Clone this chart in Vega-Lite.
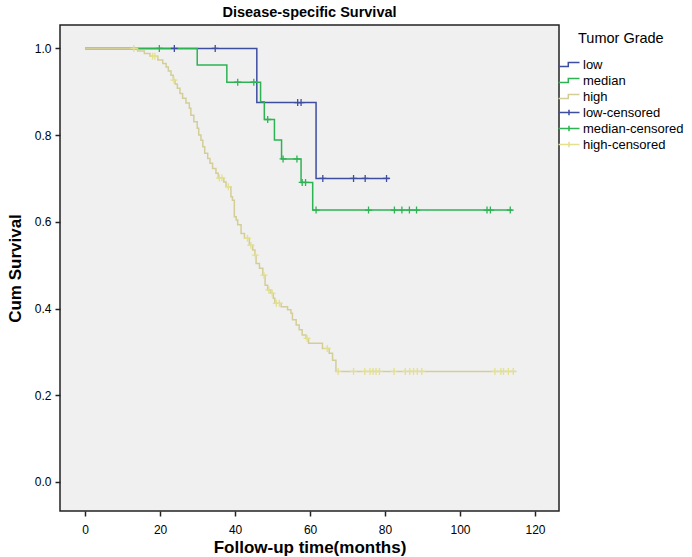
{
  "$schema": "https://vega.github.io/schema/vega-lite/v6.json",
  "width": 499,
  "height": 486,
  "autosize": {"type": "none"},
  "padding": {"left": 60, "top": 25, "right": 133, "bottom": 46},
  "background": "white",
  "title": {"text": "Disease-specific Survival", "font": "Liberation Sans", "fontSize": 14.5, "fontWeight": "bold", "color": "#000", "anchor": "middle", "offset": 5},
  "config": {
    "view": {"fill": "#F0F0F0", "stroke": "#222", "strokeWidth": 1.5},
    "axis": {"domain": false, "grid": false, "ticks": true, "tickColor": "#222", "tickSize": 5, "tickWidth": 1.5, "labelFont": "Liberation Sans", "labelFontSize": 12, "labelColor": "#000", "titleFont": "Liberation Sans", "titleFontSize": 17, "titleFontWeight": "bold", "titleColor": "#000"}
  },
  "data": {"values": [
    {"series": "low", "k": "line", "t": 0, "s": 1},
    {"series": "low", "k": "line", "t": 45.8, "s": 0.875},
    {"series": "low", "k": "line", "t": 61.6, "s": 0.7},
    {"series": "low", "k": "line", "t": 81.2, "s": 0.7},
    {"series": "median", "k": "line", "t": 0, "s": 1},
    {"series": "median", "k": "line", "t": 29.9, "s": 0.962},
    {"series": "median", "k": "line", "t": 37.8, "s": 0.922},
    {"series": "median", "k": "line", "t": 46.8, "s": 0.877},
    {"series": "median", "k": "line", "t": 47.8, "s": 0.836},
    {"series": "median", "k": "line", "t": 50.5, "s": 0.789},
    {"series": "median", "k": "line", "t": 52.4, "s": 0.745},
    {"series": "median", "k": "line", "t": 57.6, "s": 0.691},
    {"series": "median", "k": "line", "t": 60.7, "s": 0.627},
    {"series": "median", "k": "line", "t": 114.0, "s": 0.627},
    {"series": "high", "k": "line", "t": 0, "s": 1},
    {"series": "high", "k": "line", "t": 14.0, "s": 0.994},
    {"series": "high", "k": "line", "t": 15.8, "s": 0.988},
    {"series": "high", "k": "line", "t": 17.3, "s": 0.982},
    {"series": "high", "k": "line", "t": 19.4, "s": 0.973},
    {"series": "high", "k": "line", "t": 20.7, "s": 0.965},
    {"series": "high", "k": "line", "t": 21.6, "s": 0.957},
    {"series": "high", "k": "line", "t": 22.2, "s": 0.948},
    {"series": "high", "k": "line", "t": 22.9, "s": 0.938},
    {"series": "high", "k": "line", "t": 23.5, "s": 0.927},
    {"series": "high", "k": "line", "t": 24.0, "s": 0.918},
    {"series": "high", "k": "line", "t": 24.6, "s": 0.908},
    {"series": "high", "k": "line", "t": 25.3, "s": 0.896},
    {"series": "high", "k": "line", "t": 26.0, "s": 0.885},
    {"series": "high", "k": "line", "t": 26.9, "s": 0.874},
    {"series": "high", "k": "line", "t": 27.8, "s": 0.862},
    {"series": "high", "k": "line", "t": 28.2, "s": 0.846},
    {"series": "high", "k": "line", "t": 29.0, "s": 0.831},
    {"series": "high", "k": "line", "t": 29.9, "s": 0.816},
    {"series": "high", "k": "line", "t": 30.3, "s": 0.8},
    {"series": "high", "k": "line", "t": 30.9, "s": 0.788},
    {"series": "high", "k": "line", "t": 31.4, "s": 0.773},
    {"series": "high", "k": "line", "t": 31.9, "s": 0.758},
    {"series": "high", "k": "line", "t": 32.7, "s": 0.746},
    {"series": "high", "k": "line", "t": 33.3, "s": 0.735},
    {"series": "high", "k": "line", "t": 34.0, "s": 0.723},
    {"series": "high", "k": "line", "t": 34.9, "s": 0.712},
    {"series": "high", "k": "line", "t": 35.5, "s": 0.701},
    {"series": "high", "k": "line", "t": 37.0, "s": 0.692},
    {"series": "high", "k": "line", "t": 37.6, "s": 0.681},
    {"series": "high", "k": "line", "t": 38.9, "s": 0.658},
    {"series": "high", "k": "line", "t": 39.3, "s": 0.65},
    {"series": "high", "k": "line", "t": 39.8, "s": 0.612},
    {"series": "high", "k": "line", "t": 40.3, "s": 0.604},
    {"series": "high", "k": "line", "t": 40.7, "s": 0.593},
    {"series": "high", "k": "line", "t": 41.6, "s": 0.573},
    {"series": "high", "k": "line", "t": 42.5, "s": 0.562},
    {"series": "high", "k": "line", "t": 43.8, "s": 0.546},
    {"series": "high", "k": "line", "t": 44.7, "s": 0.535},
    {"series": "high", "k": "line", "t": 45.3, "s": 0.523},
    {"series": "high", "k": "line", "t": 45.6, "s": 0.504},
    {"series": "high", "k": "line", "t": 46.5, "s": 0.493},
    {"series": "high", "k": "line", "t": 47.4, "s": 0.477},
    {"series": "high", "k": "line", "t": 48.0, "s": 0.454},
    {"series": "high", "k": "line", "t": 48.7, "s": 0.443},
    {"series": "high", "k": "line", "t": 49.5, "s": 0.435},
    {"series": "high", "k": "line", "t": 50.2, "s": 0.424},
    {"series": "high", "k": "line", "t": 50.6, "s": 0.412},
    {"series": "high", "k": "line", "t": 52.3, "s": 0.404},
    {"series": "high", "k": "line", "t": 54.0, "s": 0.397},
    {"series": "high", "k": "line", "t": 54.9, "s": 0.389},
    {"series": "high", "k": "line", "t": 55.3, "s": 0.374},
    {"series": "high", "k": "line", "t": 56.3, "s": 0.362},
    {"series": "high", "k": "line", "t": 57.1, "s": 0.351},
    {"series": "high", "k": "line", "t": 57.9, "s": 0.339},
    {"series": "high", "k": "line", "t": 58.9, "s": 0.331},
    {"series": "high", "k": "line", "t": 59.6, "s": 0.32},
    {"series": "high", "k": "line", "t": 63.3, "s": 0.308},
    {"series": "high", "k": "line", "t": 65.1, "s": 0.297},
    {"series": "high", "k": "line", "t": 66.0, "s": 0.281},
    {"series": "high", "k": "line", "t": 66.9, "s": 0.255},
    {"series": "high", "k": "line", "t": 114.9, "s": 0.255},
    {"series": "low-censored", "k": "cens", "t": 23.8, "s": 1},
    {"series": "low-censored", "k": "cens", "t": 34.7, "s": 1},
    {"series": "low-censored", "k": "cens", "t": 56.7, "s": 0.875},
    {"series": "low-censored", "k": "cens", "t": 57.6, "s": 0.875},
    {"series": "low-censored", "k": "cens", "t": 63.4, "s": 0.7},
    {"series": "low-censored", "k": "cens", "t": 71.6, "s": 0.7},
    {"series": "low-censored", "k": "cens", "t": 74.7, "s": 0.7},
    {"series": "low-censored", "k": "cens", "t": 80.4, "s": 0.7},
    {"series": "median-censored", "k": "cens", "t": 19.8, "s": 1},
    {"series": "median-censored", "k": "cens", "t": 40.7, "s": 0.922},
    {"series": "median-censored", "k": "cens", "t": 45.0, "s": 0.922},
    {"series": "median-censored", "k": "cens", "t": 48.7, "s": 0.836},
    {"series": "median-censored", "k": "cens", "t": 52.8, "s": 0.745},
    {"series": "median-censored", "k": "cens", "t": 56.5, "s": 0.745},
    {"series": "median-censored", "k": "cens", "t": 57.9, "s": 0.691},
    {"series": "median-censored", "k": "cens", "t": 58.8, "s": 0.691},
    {"series": "median-censored", "k": "cens", "t": 61.6, "s": 0.627},
    {"series": "median-censored", "k": "cens", "t": 75.6, "s": 0.627},
    {"series": "median-censored", "k": "cens", "t": 82.5, "s": 0.627},
    {"series": "median-censored", "k": "cens", "t": 84.5, "s": 0.627},
    {"series": "median-censored", "k": "cens", "t": 86.5, "s": 0.627},
    {"series": "median-censored", "k": "cens", "t": 88.4, "s": 0.627},
    {"series": "median-censored", "k": "cens", "t": 107.2, "s": 0.627},
    {"series": "median-censored", "k": "cens", "t": 108.1, "s": 0.627},
    {"series": "median-censored", "k": "cens", "t": 113.4, "s": 0.627},
    {"series": "high-censored", "k": "cens", "t": 13.0, "s": 1},
    {"series": "high-censored", "k": "cens", "t": 18.0, "s": 0.982},
    {"series": "high-censored", "k": "cens", "t": 18.6, "s": 0.982},
    {"series": "high-censored", "k": "cens", "t": 23.7, "s": 0.927},
    {"series": "high-censored", "k": "cens", "t": 35.8, "s": 0.701},
    {"series": "high-censored", "k": "cens", "t": 36.5, "s": 0.701},
    {"series": "high-censored", "k": "cens", "t": 38.2, "s": 0.681},
    {"series": "high-censored", "k": "cens", "t": 43.3, "s": 0.562},
    {"series": "high-censored", "k": "cens", "t": 44.2, "s": 0.546},
    {"series": "high-censored", "k": "cens", "t": 45.4, "s": 0.523},
    {"series": "high-censored", "k": "cens", "t": 47.7, "s": 0.477},
    {"series": "high-censored", "k": "cens", "t": 49.0, "s": 0.443},
    {"series": "high-censored", "k": "cens", "t": 49.9, "s": 0.435},
    {"series": "high-censored", "k": "cens", "t": 51.0, "s": 0.412},
    {"series": "high-censored", "k": "cens", "t": 51.8, "s": 0.412},
    {"series": "high-censored", "k": "cens", "t": 59.2, "s": 0.331},
    {"series": "high-censored", "k": "cens", "t": 64.6, "s": 0.308},
    {"series": "high-censored", "k": "cens", "t": 67.5, "s": 0.255},
    {"series": "high-censored", "k": "cens", "t": 71.6, "s": 0.255},
    {"series": "high-censored", "k": "cens", "t": 74.6, "s": 0.255},
    {"series": "high-censored", "k": "cens", "t": 76.0, "s": 0.255},
    {"series": "high-censored", "k": "cens", "t": 76.8, "s": 0.255},
    {"series": "high-censored", "k": "cens", "t": 77.6, "s": 0.255},
    {"series": "high-censored", "k": "cens", "t": 78.5, "s": 0.255},
    {"series": "high-censored", "k": "cens", "t": 82.4, "s": 0.255},
    {"series": "high-censored", "k": "cens", "t": 85.4, "s": 0.255},
    {"series": "high-censored", "k": "cens", "t": 86.6, "s": 0.255},
    {"series": "high-censored", "k": "cens", "t": 87.6, "s": 0.255},
    {"series": "high-censored", "k": "cens", "t": 88.6, "s": 0.255},
    {"series": "high-censored", "k": "cens", "t": 89.8, "s": 0.255},
    {"series": "high-censored", "k": "cens", "t": 109.3, "s": 0.255},
    {"series": "high-censored", "k": "cens", "t": 110.9, "s": 0.255},
    {"series": "high-censored", "k": "cens", "t": 111.6, "s": 0.255},
    {"series": "high-censored", "k": "cens", "t": 112.9, "s": 0.255},
    {"series": "high-censored", "k": "cens", "t": 114.2, "s": 0.255}
  ]},
  "encoding": {
    "x": {"field": "t", "type": "quantitative", "scale": {"domain": [-6.7, 126.4], "nice": false, "zero": false}, "axis": {"values": [0, 20, 40, 60, 80, 100, 120], "title": "Follow-up time(months)", "labelPadding": 8, "titlePadding": 4}},
    "y": {"field": "s", "type": "quantitative", "scale": {"domain": [-0.067, 1.054], "nice": false, "zero": false}, "axis": {"values": [0, 0.2, 0.4, 0.6, 0.8, 1.0], "format": ".1f", "title": "Cum Survival", "labelPadding": 4, "titlePadding": 10}},
    "color": {
      "field": "series", "type": "nominal",
      "scale": {"domain": ["low", "median", "high", "low-censored", "median-censored", "high-censored"], "range": ["#3D4DA0", "#2DB353", "#D3CE97", "#3D4DA0", "#2DB353", "#E3E08F"]},
      "legend": {
        "title": "Tumor Grade", "orient": "right", "offset": 2, "padding": 0,
        "titleFont": "Liberation Sans", "titleFontSize": 14.5, "titleFontWeight": "normal", "titleColor": "#000", "titlePadding": 17,
        "labelFont": "Liberation Sans", "labelFontSize": 13, "labelColor": "#000", "labelOffset": 6,
        "symbolSize": 196, "symbolStrokeWidth": 1.5, "rowPadding": 1,
        "encode": {
          "symbols": {"update": {"shape": [{"test": "indexof(datum.value, 'censored') >= 0", "value": "M-1.5,0H1.5M0,-0.4V0.4"}, {"value": "M-1.5,0.3H-0.1V-0.3H1.5"}], "fill": {"value": "transparent"}}},
          "title": {"update": {"dx": {"value": 17}, "dy": {"value": 7}}}
        }
      }
    }
  },
  "layer": [
    {"transform": [{"filter": "datum.k == 'line'"}], "mark": {"type": "line", "interpolate": "step-after", "strokeWidth": 1.5}},
    {"transform": [{"filter": "datum.k == 'cens'"}], "mark": {"type": "point", "shape": "M-1,0H1M0,-1V1", "size": 49, "filled": false, "strokeWidth": 1.3, "opacity": 1}}
  ]
}
